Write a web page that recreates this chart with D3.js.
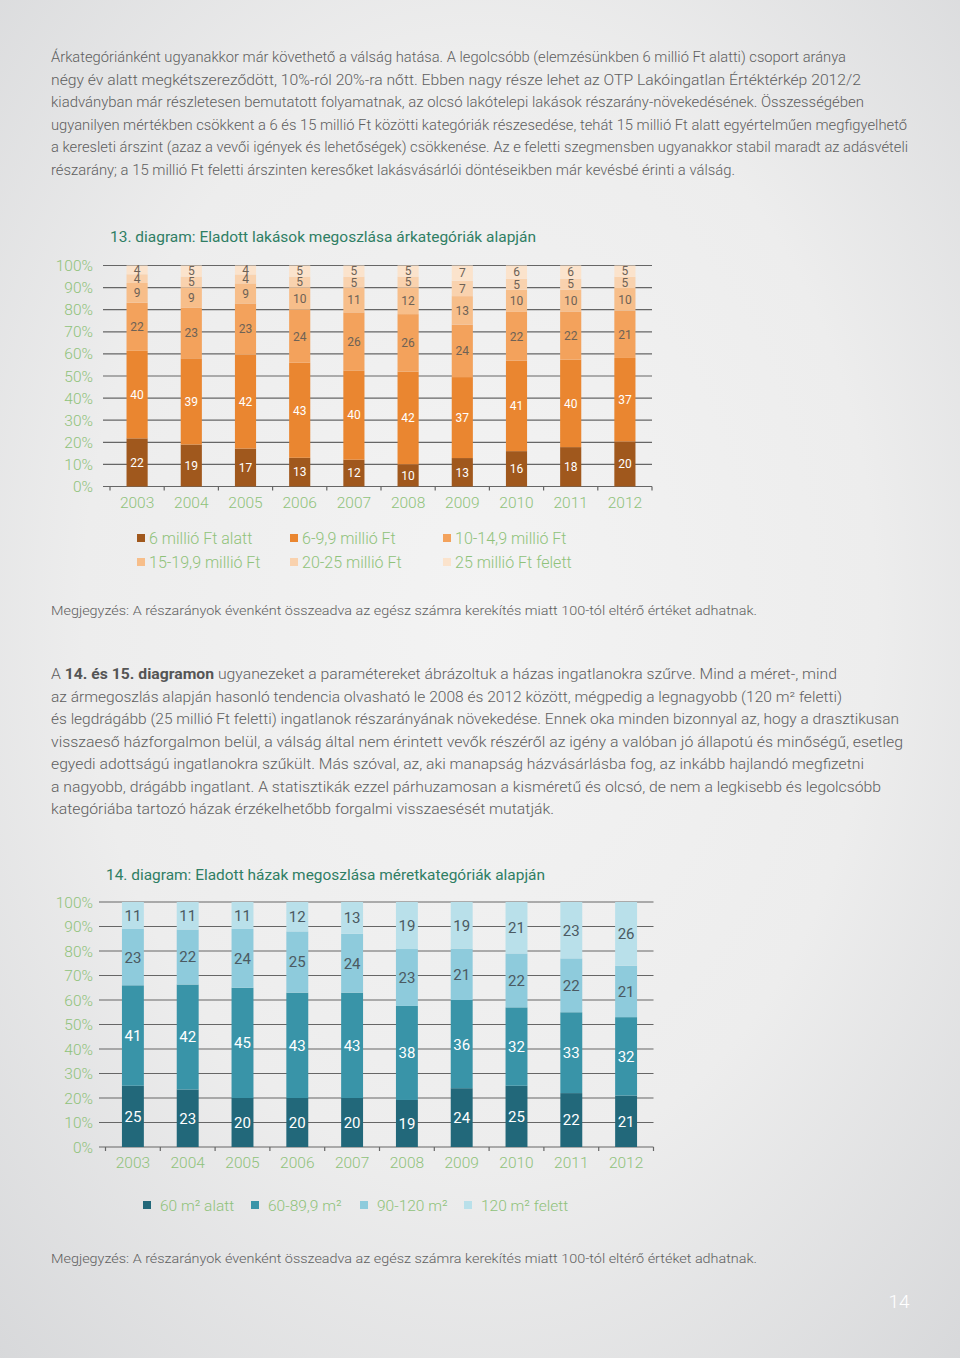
<!DOCTYPE html>
<html>
<head>
<meta charset="utf-8">
<script src="https://cdn.jsdelivr.net/npm/d3@7"></script>
<style>
  body { margin: 0; background: #ececec; }
  svg { display: block; }
</style>
</head>
<body>
<div id="page"></div>
<script>
// ------ Data

const years = ["2003", "2004", "2005", "2006", "2007", "2008", "2009", "2010", "2011", "2012"];
const yTicks = [0, 0.1, 0.2, 0.3, 0.4, 0.5, 0.6, 0.7, 0.8, 0.9, 1];

// 13. diagram - price categories (bottom to top)
const priceKeys = ["6 millió Ft alatt", "6-9,9 millió Ft", "10-14,9 millió Ft", "15-19,9 millió Ft", "20-25 millió Ft", "25 millió Ft felett"];
const priceUnder6 = [22, 19, 17, 13, 12, 10, 13, 16, 18, 20];
const price6to10 = [40, 39, 42, 43, 40, 42, 37, 41, 40, 37];
const price10to15 = [22, 23, 23, 24, 26, 26, 24, 22, 22, 21];
const price15to20 = [9, 9, 9, 10, 11, 12, 13, 10, 10, 10];
const price20to25 = [4, 5, 4, 5, 5, 5, 7, 5, 5, 5];
const priceOver25 = [4, 5, 4, 5, 5, 5, 7, 6, 6, 5];

// 14. diagram - size categories (bottom to top)
const sizeKeys = ["60 m² alatt", "60-89,9 m²", "90-120 m²", "120 m² felett"];
const sizeUnder60 = [25, 23, 20, 20, 20, 19, 24, 25, 22, 21];
const size60to90 = [41, 42, 45, 43, 43, 38, 36, 32, 33, 32];
const size90to120 = [23, 22, 24, 25, 24, 23, 21, 22, 22, 21];
const sizeOver120 = [11, 11, 11, 12, 13, 19, 19, 21, 23, 26];

// text blocks, one entry per printed line
const para1 = [
  "Árkategóriánként ugyanakkor már követhető a válság hatása. A legolcsóbb (elemzésünkben 6 millió Ft alatti) csoport aránya",
  "négy év alatt megkétszereződött, 10%-ról 20%-ra nőtt. Ebben nagy része lehet az OTP Lakóingatlan Értéktérkép 2012/2",
  "kiadványban már részletesen bemutatott folyamatnak, az olcsó lakótelepi lakások részarány-növekedésének. Összességében",
  "ugyanilyen mértékben csökkent a 6 és 15 millió Ft közötti kategóriák részesedése, tehát 15 millió Ft alatt egyértelműen megfigyelhető",
  "a keresleti árszint (azaz a vevői igények és lehetőségek) csökkenése. Az e feletti szegmensben ugyanakkor stabil maradt az adásvételi",
  "részarány; a 15 millió Ft feletti árszinten keresőket lakásvásárlói döntéseikben már kevésbé érinti a válság."
];
const para1Ends = [846, 861, 864, 907, 908, 735];

const para2 = [
  "ugyanezeket a paramétereket ábrázoltuk a házas ingatlanokra szűrve. Mind a méret-, mind",
  "az ármegoszlás alapján hasonló tendencia olvasható le 2008 és 2012 között, mégpedig a legnagyobb (120 m² feletti)",
  "és legdrágább (25 millió Ft feletti) ingatlanok részarányának növekedése. Ennek oka minden bizonnyal az, hogy a drasztikusan",
  "visszaeső házforgalmon belül, a válság által nem érintett vevők részéről az igény a valóban jó állapotú és minőségű, esetleg",
  "egyedi adottságú ingatlanokra szűkült. Más szóval, az, aki manapság házvásárlásba fog, az inkább hajlandó megfizetni",
  "a nagyobb, drágább ingatlant. A statisztikák ezzel párhuzamosan a kisméretű és olcsó, de nem a legkisebb és legolcsóbb",
  "kategóriába tartozó házak érzékelhetőbb forgalmi visszaesését mutatják."
];
const para2Ends = [837, 842, 899, 903, 864, 881, 554];

const noteText = "Megjegyzés: A részarányok évenként összeadva az egész számra kerekítés miatt 100-tól eltérő értéket adhatnak.";

// ------ Colors

const priceColors = ["#a0581d", "#ea8630", "#f3a25c", "#f7be8a", "#f9d2ae", "#fbe3cc"];
const priceLabelColors = ["#ffffff", "#ffffff", "#6e6256", "#6e6256", "#6e6256", "#6e6256"];
const sizeColors = ["#22687a", "#3994a8", "#8ecbdc", "#b9e0ea"];
const sizeLabelColors = ["#ffffff", "#ffffff", "#4b5a62", "#4b5a62"];

var textGrey = "#5e5e5e";
var tickGreen = "#8fc27a";
var titleGreen = "#2f7e64";
var gridGrey = "#666666";
const fontFam = "Roboto, 'Open Sans', sans-serif";

const W = 960, H = 1358;

const svg = d3.select("#page")
  .append("svg")
  .attr("width", W)
  .attr("height", H);

// page background, lighter in the middle
const grad = svg.append("defs")
  .append("radialGradient")
  .attr("id", "bg")
  .attr("cx", "50%").attr("cy", "45%").attr("r", "75%");
grad.append("stop").attr("offset", "0%").attr("stop-color", "#f3f3f3");
grad.append("stop").attr("offset", "55%").attr("stop-color", "#ededed");
grad.append("stop").attr("offset", "100%").attr("stop-color", "#d7d8da");

svg.append("rect")
  .attr("width", W)
  .attr("height", H)
  .attr("fill", "url(#bg)");

// paragraph lines, each squeezed to the measured width
function paragraph(lines, ends, x0, y0, lh) {
  lines.forEach(function (line, i) {
    svg.append("text")
      .attr("x", x0)
      .attr("y", y0 + i * lh)
      .attr("textLength", ends[i] - x0)
      .attr("lengthAdjust", "spacingAndGlyphs")
      .style("font-family", fontFam)
      .style("font-weight", 300)
      .style("font-size", "14px")
      .style("fill", textGrey)
      .text(line);
  });
}

paragraph(para1, para1Ends, 51, 62, 22.5);

// second paragraph: first line has a bold part
const p2first = svg.append("text")
  .attr("x", 51)
  .attr("y", 679)
  .attr("textLength", para2Ends[0] - 51)
  .attr("lengthAdjust", "spacingAndGlyphs")
  .style("font-family", fontFam)
  .style("font-weight", 300)
  .style("font-size", "14px")
  .style("fill", textGrey);
p2first.append("tspan").text("A ");
p2first.append("tspan").style("font-weight", 700).style("fill", "#555").text("14. és 15. diagramon");
p2first.append("tspan").text(" " + para2[0]);

paragraph(para2.slice(1), para2Ends.slice(1), 51, 679 + 22.5, 22.5);

// notes under charts
[615, 1263].forEach(function (yy) {
  svg.append("text")
    .attr("x", 51)
    .attr("y", yy)
    .attr("textLength", 706)
    .attr("lengthAdjust", "spacingAndGlyphs")
    .style("font-family", fontFam)
    .style("font-weight", 300)
    .style("font-size", "13.5px")
    .style("fill", textGrey)
    .text(noteText);
});

// page number
svg.append("text")
  .attr("x", 899)
  .attr("y", 1308)
  .attr("text-anchor", "middle")
  .style("font-family", fontFam)
  .style("font-weight", 300)
  .style("font-size", "19px")
  .style("fill", "#ffffff")
  .text("14");

// ------ Stacked 100% bar chart
function drawChart(cfg) {
  const table = years.map(function (yr, i) {
    const row = { year: yr };
    cfg.keys.forEach(function (k, j) { row[k] = cfg.series[j][i]; });
    return row;
  });

  const stacked = d3.stack()
    .keys(cfg.keys)
    .offset(d3.stackOffsetExpand)(table);

  const x = d3.scaleBand()
    .domain(years)
    .range([cfg.x0, cfg.x1])
    .paddingInner(cfg.pad)
    .paddingOuter(cfg.pad / 2);

  const y = d3.scaleLinear()
    .domain([0, 1])
    .range([cfg.y0, cfg.y1]);

  const g = svg.append("g");

  // title
  g.append("text")
    .attr("x", cfg.titleX)
    .attr("y", cfg.titleY)
    .attr("textLength", cfg.titleW)
    .attr("lengthAdjust", "spacingAndGlyphs")
    .style("font-family", fontFam)
    .style("font-size", "15.5px")
    .style("fill", titleGreen)
    .text(cfg.title);

  // gridlines
  g.selectAll(".grid")
    .data(yTicks)
    .enter()
    .append("line")
    .attr("x1", cfg.gridX0)
    .attr("x2", cfg.x1)
    .attr("y1", function (d) { return y(d); })
    .attr("y2", function (d) { return y(d); })
    .attr("stroke", gridGrey)
    .attr("stroke-width", 1.2);

  // y labels
  g.selectAll(".ylab")
    .data(yTicks)
    .enter()
    .append("text")
    .attr("x", 93)
    .attr("y", function (d) { return y(d); })
    .attr("dy", "0.36em")
    .attr("text-anchor", "end")
    .style("font-family", fontFam)
    .style("font-weight", 300)
    .style("font-size", "15.5px")
    .style("fill", tickGreen)
    .text(function (d) { return Math.round(d * 100) + "%"; });

  // x axis: boundary ticks and year labels
  const step = x.step();
  g.selectAll(".xtick")
    .data(d3.range(years.length + 1))
    .enter()
    .append("line")
    .attr("x1", function (d) { return cfg.x0 + d * step; })
    .attr("x2", function (d) { return cfg.x0 + d * step; })
    .attr("y1", cfg.y0)
    .attr("y2", cfg.y0 + 4)
    .attr("stroke", gridGrey)
    .attr("stroke-width", 1.2);

  g.selectAll(".xlab")
    .data(years)
    .enter()
    .append("text")
    .attr("x", function (d) { return x(d) + x.bandwidth() / 2; })
    .attr("y", cfg.y0 + 21)
    .attr("text-anchor", "middle")
    .style("font-family", fontFam)
    .style("font-weight", 300)
    .style("font-size", "15.5px")
    .style("fill", tickGreen)
    .text(function (d) { return d; });

  // bars
  const layer = g.selectAll(".layer")
    .data(stacked)
    .enter()
    .append("g")
    .attr("fill", function (d, i) { return cfg.colors[i]; });

  layer.selectAll("rect")
    .data(function (d) { return d; })
    .enter()
    .append("rect")
    .attr("x", function (d) { return x(d.data.year); })
    .attr("width", x.bandwidth())
    .attr("y", function (d) { return y(d[1]); })
    .attr("height", function (d) { return y(d[0]) - y(d[1]); });

  // value labels
  stacked.forEach(function (s, j) {
    g.selectAll(".val" + j)
      .data(s)
      .enter()
      .append("text")
      .attr("x", function (d) { return x(d.data.year) + x.bandwidth() / 2; })
      .attr("y", function (d) { return (y(d[0]) + y(d[1])) / 2; })
      .attr("dy", "0.36em")
      .attr("text-anchor", "middle")
      .style("font-family", fontFam)
      .style("font-size", cfg.labelSize)
      .style("fill", cfg.labelColors[j])
      .text(function (d, i) { return cfg.series[j][i]; });
  });

  // legend
  cfg.keys.forEach(function (k, i) {
    const lx = cfg.legendX[i], ly = cfg.legendY[i];
    g.append("rect")
      .attr("x", lx)
      .attr("y", ly - 4)
      .attr("width", 8)
      .attr("height", 8)
      .attr("fill", cfg.colors[i]);
    g.append("text")
      .attr("x", lx + cfg.legendGap)
      .attr("y", ly)
      .attr("dy", "0.36em")
      .style("font-family", fontFam)
      .style("font-weight", 300)
      .style("font-size", cfg.legendSize)
      .style("fill", tickGreen)
      .text(k);
  });
}

drawChart({
  title: "13. diagram: Eladott lakások megoszlása árkategóriák alapján",
  titleX: 110, titleY: 242, titleW: 426,
  keys: priceKeys,
  series: [priceUnder6, price6to10, price10to15, price15to20, price20to25, priceOver25],
  colors: priceColors,
  labelColors: priceLabelColors,
  labelSize: "12px",
  x0: 110, x1: 652, gridX0: 103, pad: 0.61,
  y0: 486.5, y1: 265.5,
  legendX: [137, 290, 443, 137, 290, 443],
  legendY: [538, 538, 538, 562, 562, 562],
  legendGap: 12,
  legendSize: "16px"
});

drawChart({
  title: "14. diagram: Eladott házak megoszlása méretkategóriák alapján",
  titleX: 106, titleY: 880, titleW: 439,
  keys: sizeKeys,
  series: [sizeUnder60, size60to90, size90to120, sizeOver120],
  colors: sizeColors,
  labelColors: sizeLabelColors,
  labelSize: "15px",
  x0: 105.5, x1: 653.5, gridX0: 99, pad: 0.6,
  y0: 1147, y1: 902,
  legendX: [143, 251, 360, 464],
  legendY: [1205, 1205, 1205, 1205],
  legendGap: 17,
  legendSize: "15.5px"
});
</script>
</body>
</html>
